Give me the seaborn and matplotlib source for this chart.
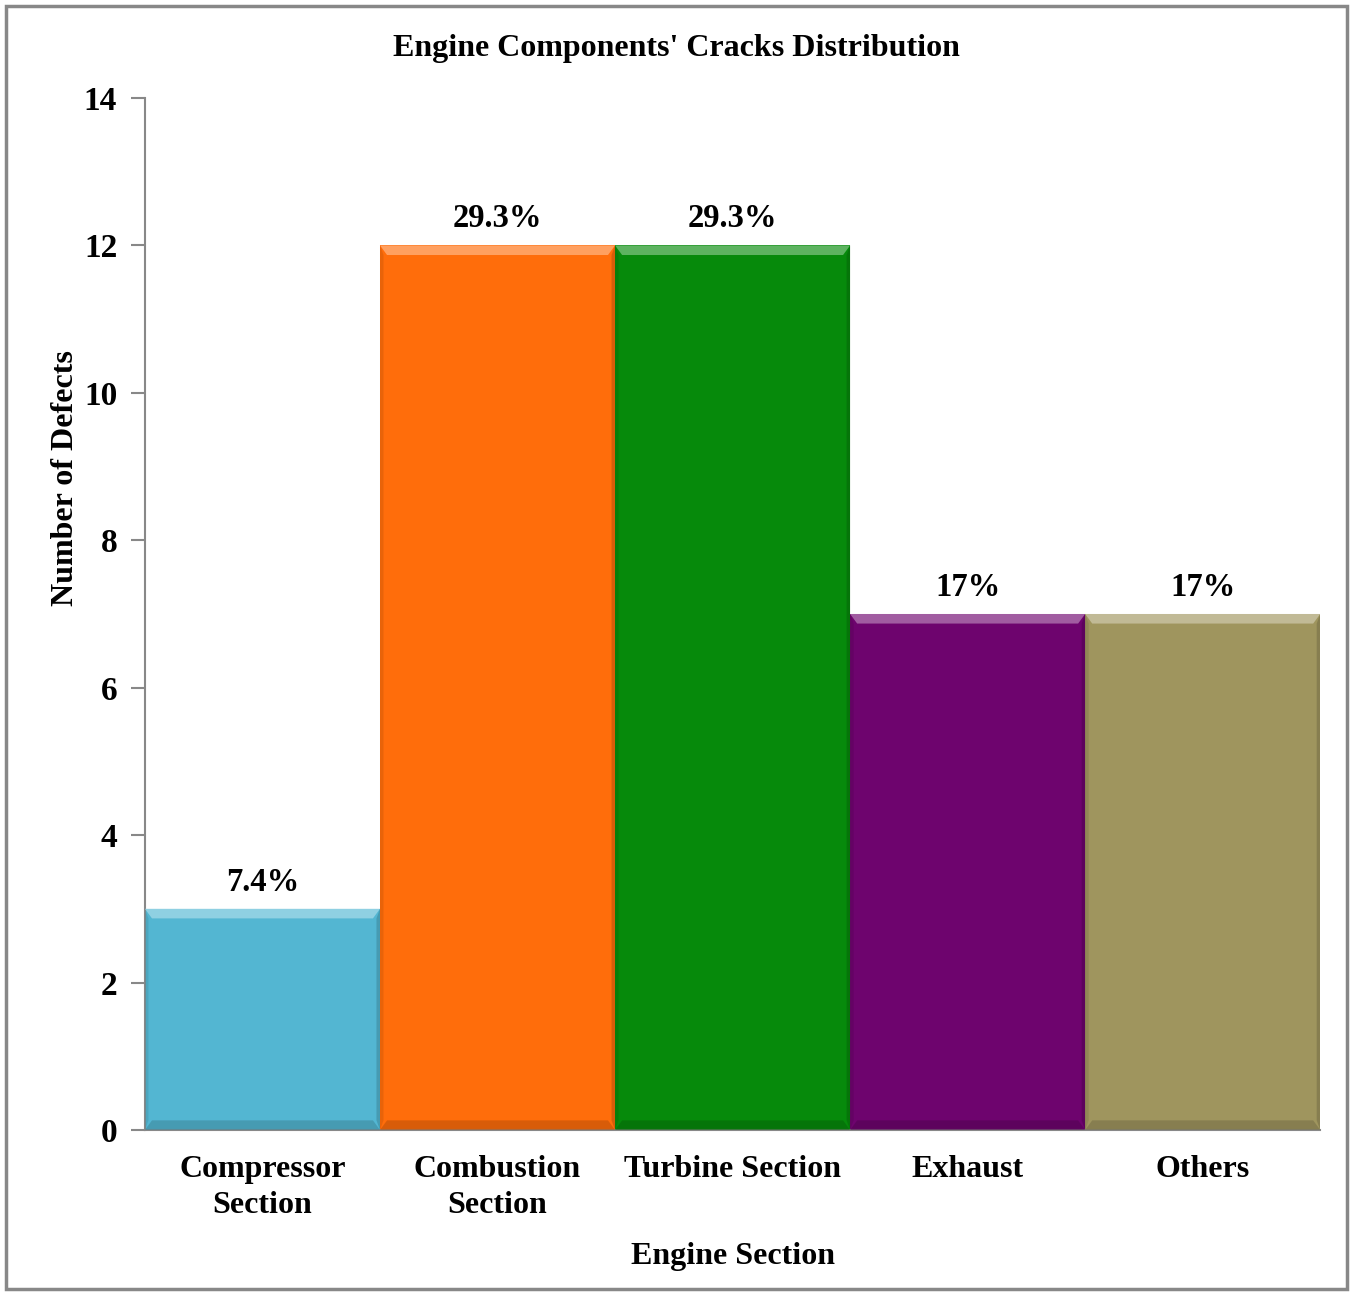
import matplotlib
matplotlib.use("Agg")
import matplotlib.pyplot as plt
import seaborn as sns
import pandas as pd
from matplotlib.patches import Polygon, Rectangle
import matplotlib.colors as mcolors

sections = ["Compressor\nSection", "Combustion\nSection", "Turbine Section", "Exhaust", "Others"]
defects = [3, 12, 12, 7, 7]
share_labels = ["7.4%", "29.3%", "29.3%", "17%", "17%"]
bar_colors = ["#53B6D2", "#FF6D0B", "#068A0B", "#6E046E", "#9F955E"]

sns.set_theme(style="white")
plt.rcParams["font.family"] = ["Liberation Serif", "DejaVu Serif"]
plt.rcParams["font.weight"] = "bold"
plt.rcParams["text.color"] = "black"
plt.rcParams["axes.labelcolor"] = "black"
plt.rcParams["xtick.color"] = "black"
plt.rcParams["ytick.color"] = "black"

df = pd.DataFrame({"section": sections, "defects": defects})

fig = plt.figure(figsize=(13.52, 12.93), dpi=100)
ax = fig.add_axes([0.1072, 0.1261, 0.8693, 0.7981])

sns.barplot(data=df, x="section", y="defects", hue="section",
            palette=bar_colors, width=1.0, legend=False, ax=ax,
            saturation=1.0, edgecolor="none", linewidth=0)

ax.set_xlim(-0.5, 4.5)
ax.set_ylim(0, 14)
ax.set_yticks(range(0, 15, 2))

# bevelled look on each bar: light top strip, darker sides/bottom
for patch, col in zip(ax.patches[:len(defects)], bar_colors):
    x0, y0 = patch.get_x(), patch.get_y()
    w, h = patch.get_width(), patch.get_height()
    rgb = mcolors.to_rgb(col)
    light = tuple(min(1, c + (1 - c) * 0.35) for c in rgb)
    dark = tuple(c * 0.75 for c in rgb)
    dx = 0.03
    dy = 0.13
    top = Polygon([(x0, y0 + h), (x0 + w, y0 + h), (x0 + w - dx, y0 + h - dy), (x0 + dx, y0 + h - dy)],
                  closed=True, facecolor=light, edgecolor="none", zorder=3)
    bottom = Polygon([(x0, y0), (x0 + w, y0), (x0 + w - dx, y0 + dy), (x0 + dx, y0 + dy)],
                     closed=True, facecolor=dark, edgecolor="none", zorder=3, alpha=0.6)
    right = Polygon([(x0 + w, y0), (x0 + w, y0 + h), (x0 + w - dx * 0.5, y0 + h - dy), (x0 + w - dx * 0.5, y0 + dy)],
                    closed=True, facecolor=dark, edgecolor="none", zorder=3, alpha=0.6)
    left = Polygon([(x0, y0), (x0, y0 + h), (x0 + dx * 0.5, y0 + h - dy), (x0 + dx * 0.5, y0 + dy)],
                   closed=True, facecolor=dark, edgecolor="none", zorder=3, alpha=0.35)
    for p in (top, bottom, right, left):
        ax.add_patch(p)

for i, (v, lab) in enumerate(zip(defects, share_labels)):
    ax.text(i, v + 0.15, lab, ha="center", va="bottom", fontsize=23.5, fontweight="bold", color="black")

for side in ["top", "right"]:
    ax.spines[side].set_visible(False)
for side in ["left", "bottom"]:
    ax.spines[side].set_color("#888888")
    ax.spines[side].set_linewidth(1.5)

ax.tick_params(axis="y", which="both", left=True, length=10, width=1.5, color="#888888",
               labelcolor="black", labelsize=24, pad=10)
ax.tick_params(axis="x", which="both", bottom=False, labelsize=23, pad=12, labelcolor="black")
for t in ax.get_xticklabels() + ax.get_yticklabels():
    t.set_fontweight("bold")
for t in ax.get_xticklabels():
    t.set_linespacing(1.3)

ax.set_xlabel("Engine Section", fontsize=23, fontweight="bold", labelpad=16)
ax.set_ylabel("Number of Defects", fontsize=23, fontweight="bold")
ax.yaxis.set_label_coords(-0.0555, 0.632)

fig.text(0.5, 0.9625, "Engine Components' Cracks Distribution", ha="center", va="center",
         fontsize=23, fontweight="bold", color="black")

fig.patches.append(Rectangle((0.0045, 0.003), 0.9915, 0.9925, transform=fig.transFigure,
                             fill=False, edgecolor="#888888", linewidth=2.5))

fig.savefig("out.png", dpi=100)
